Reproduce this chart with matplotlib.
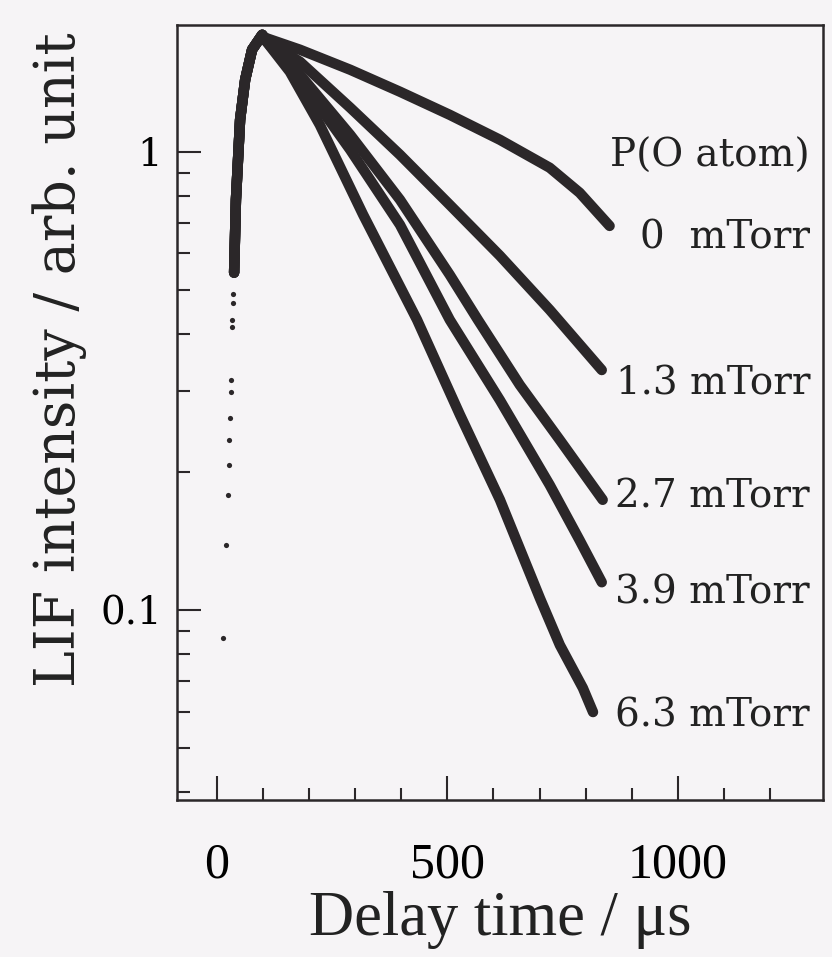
import matplotlib.pyplot as plt
from matplotlib.ticker import LogLocator, NullFormatter, FixedLocator, FixedFormatter

# rising edge right after the pulse (same for every pressure)
rise_dot_t = [13, 20, 24, 26, 26, 28, 30, 30, 33, 33, 35, 35]
rise_dot_I = [0.087, 0.139, 0.178, 0.207, 0.235, 0.263, 0.299, 0.318, 0.415, 0.430, 0.468, 0.490]
rise_t = [37, 41, 50, 61, 76, 98]
rise_I = [0.545, 0.786, 1.175, 1.436, 1.67, 1.80]

# decays, delay time in us
t_0mT = [104, 180, 289, 397, 505, 614, 722, 787, 852]
I_0mT = [1.774, 1.670, 1.510, 1.352, 1.204, 1.062, 0.923, 0.814, 0.689]

t_13mT = [104, 180, 289, 397, 505, 614, 722, 835]
I_13mT = [1.756, 1.572, 1.248, 0.985, 0.766, 0.593, 0.452, 0.334]

t_27mT = [104, 180, 289, 397, 505, 566, 657, 744, 837]
I_27mT = [1.756, 1.473, 1.089, 0.786, 0.539, 0.430, 0.310, 0.235, 0.174]

t_39mT = [104, 180, 289, 397, 505, 614, 722, 787, 835]
I_39mT = [1.756, 1.436, 1.010, 0.693, 0.430, 0.287, 0.1875, 0.142, 0.115]

t_63mT = [104, 158, 223, 317, 434, 527, 614, 701, 744, 794, 816]
I_63mT = [1.756, 1.495, 1.145, 0.729, 0.430, 0.267, 0.174, 0.106, 0.0839, 0.0676, 0.0599]

curves = [(t_0mT, I_0mT), (t_13mT, I_13mT), (t_27mT, I_27mT), (t_39mT, I_39mT), (t_63mT, I_63mT)]
labels = ['0  mTorr', '1.3 mTorr', '2.7 mTorr', '3.9 mTorr', '6.3 mTorr']
label_y = [0.725, 0.537, 0.391, 0.267, 0.108]

ink = '#2b2729'
paper = '#f6f4f6'

fig = plt.figure(figsize=(8.32, 9.57), dpi=100, facecolor=paper)
ax = fig.add_axes([0.2127, 0.164, 0.7764, 0.8098], facecolor=paper)

for t, I in curves:
    ax.plot(rise_t + t, rise_I + I, color=ink, lw=7.5, solid_capstyle='round', solid_joinstyle='round')
ax.scatter(rise_dot_t, rise_dot_I, s=14, color=ink, linewidths=0)

ax.set_yscale('log')
ax.set_xlim(-87, 1315)
ax.set_ylim(0.0385, 1.89)

ax.xaxis.set_major_locator(FixedLocator([0, 500, 1000]))
ax.xaxis.set_minor_locator(FixedLocator([100, 200, 300, 400, 600, 700, 800, 900, 1100, 1200]))
ax.yaxis.set_major_locator(FixedLocator([0.1, 1]))
ax.yaxis.set_major_formatter(FixedFormatter(['0.1', '1']))
ax.yaxis.set_minor_locator(LogLocator(base=10, subs=range(2, 10)))
ax.yaxis.set_minor_formatter(NullFormatter())

for s in ax.spines.values():
    s.set_linewidth(1.8)
    s.set_color(ink)

ax.tick_params(which='both', direction='in', top=False, right=False, color=ink, width=1.5)
ax.tick_params(which='major', length=17)
ax.tick_params(which='minor', length=9)
ax.tick_params(axis='x', which='major', pad=30, labelsize=36)
ax.tick_params(axis='y', which='major', pad=11, labelsize=28)
for lab in ax.get_xticklabels():
    lab.set_family('Liberation Serif')
for lab in ax.get_yticklabels():
    lab.set_family('DejaVu Serif')

ax.set_xlabel('Delay time / μs', family='Liberation Serif', fontsize=45, labelpad=2, color='#222')
ax.set_ylabel('LIF intensity / arb. unit', family='DejaVu Serif', fontsize=40, color='#222')
ax.yaxis.set_label_coords(-0.14, 0.568)

ax.text(0.98, 0.83, 'P(O atom)', transform=ax.transAxes, ha='right', va='center',
        family='DejaVu Serif', fontsize=28, color='#222')
for lab, y in zip(labels, label_y):
    ax.text(0.98, y, lab, transform=ax.transAxes, ha='right', va='center',
            family='DejaVu Serif', fontsize=28, color='#222')

fig.savefig('out.png', dpi=100, facecolor=paper)
